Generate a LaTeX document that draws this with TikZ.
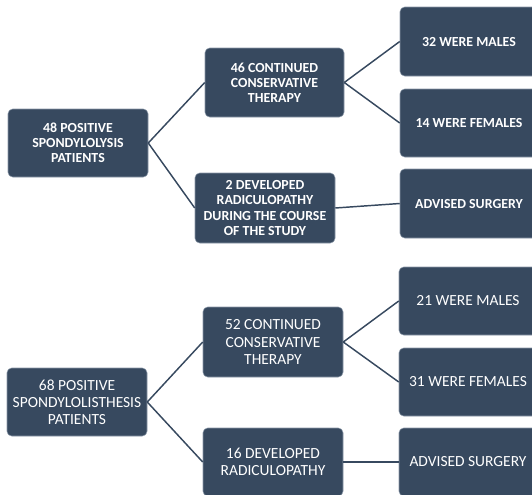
\documentclass[tikz,border=0pt]{standalone}
\usepackage{fontspec}
\setmainfont{Carlito}
\definecolor{boxfill}{HTML}{37495F}
\definecolor{boxline}{HTML}{8A97A8}
\begin{document}
\begin{tikzpicture}[x=0.75pt,y=-0.75pt,
  box/.style={draw=boxline, line width=0.4pt, fill=boxfill, rounded corners=3.5pt,
    text=white, align=center, inner sep=0pt},
  topbox/.style={box, font=\fontsize{10.4}{11.3}\selectfont\bfseries},
  botbox/.style={box, font=\fontsize{11.6}{12.8}\selectfont},
  link/.style={draw=boxfill, line width=1.1pt}]
\useasboundingbox (0,0) rectangle (532,494);
\clip (0,0) rectangle (532,494);
% top tree
\node[topbox, minimum width=105pt, minimum height=51pt] (r1) at (78,143) {48 POSITIVE\\SPONDYLOLYSIS\\PATIENTS};
\node[topbox, minimum width=104.25pt, minimum height=51.75pt] (m1a) at (274.5,82.5) {46 CONTINUED\\CONSERVATIVE\\THERAPY};
\node[topbox, minimum width=105pt, minimum height=52.5pt] (m1b) at (265,208) {2 DEVELOPED\\RADICULOPATHY\\DURING THE COURSE\\OF THE STUDY};
\node[topbox, minimum width=103.5pt, minimum height=51.75pt] (l1a) at (469,41.5) {32 WERE MALES};
\node[topbox, minimum width=103.5pt, minimum height=51pt] (l1b) at (469,123) {14 WERE FEMALES};
\node[topbox, minimum width=103.5pt, minimum height=51.75pt] (l1c) at (469,203.5) {ADVISED SURGERY};
\draw[link] (r1.east) -- (m1a.west);
\draw[link] (r1.east) -- (m1b.west);
\draw[link] (m1a.east) -- (l1a.west);
\draw[link] (m1a.east) -- (l1b.west);
\draw[link] (m1b.east) -- (l1c.west);
% bottom tree
\node[botbox, minimum width=105pt, minimum height=51pt] (r2) at (77,402) {68 POSITIVE\\SPONDYLOLISTHESIS\\PATIENTS};
\node[botbox, minimum width=105pt, minimum height=52.5pt] (m2a) at (273,342) {52 CONTINUED\\CONSERVATIVE\\THERAPY};
\node[botbox, minimum width=105pt, minimum height=51pt] (m2b) at (273,462) {16 DEVELOPED\\RADICULOPATHY};
\node[botbox, minimum width=103.5pt, minimum height=51pt] (l2a) at (468,301) {21 WERE MALES};
\node[botbox, minimum width=103.5pt, minimum height=51pt] (l2b) at (468,382) {31 WERE FEMALES};
\node[botbox, minimum width=103.5pt, minimum height=51pt] (l2c) at (468,462) {ADVISED SURGERY};
\draw[link] (r2.east) -- (m2a.west);
\draw[link] (r2.east) -- (m2b.west);
\draw[link] (m2a.east) -- (l2a.west);
\draw[link] (m2a.east) -- (l2b.west);
\draw[link] (m2b.east) -- (l2c.west);
\end{tikzpicture}
\end{document}
